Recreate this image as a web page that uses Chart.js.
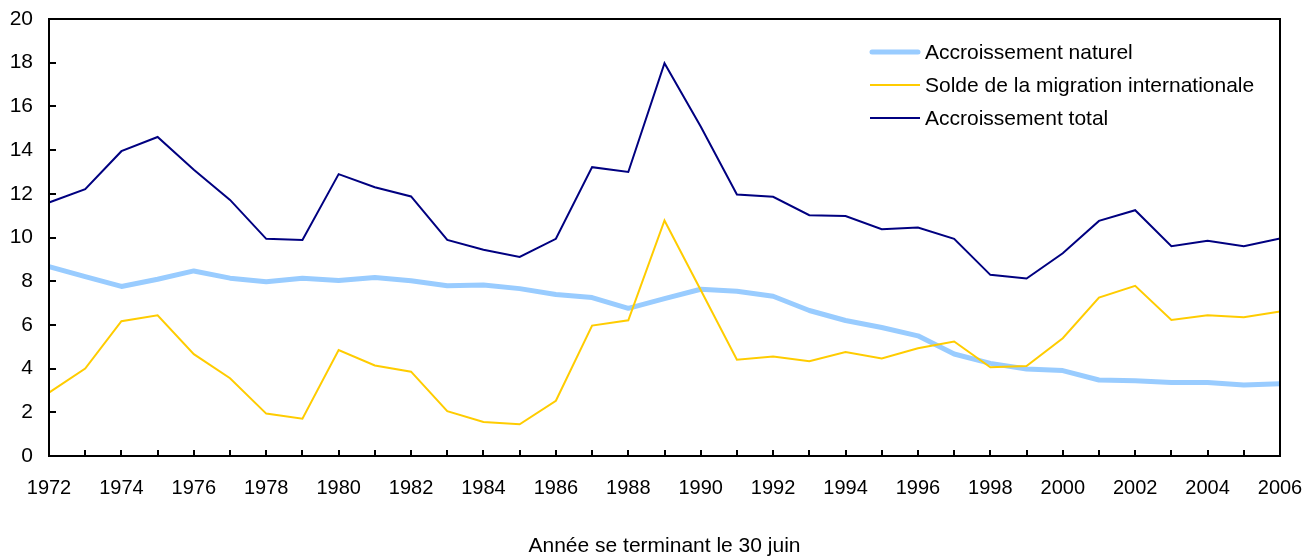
<!DOCTYPE html>
<html>
<head>
<meta charset="utf-8">
<script src="https://cdn.jsdelivr.net/npm/chart.js@4/dist/chart.umd.min.js"></script>
<style>
  html, body { margin: 0; padding: 0; background: #ffffff; }
  #wrap { width: 1315px; height: 559px; }
</style>
</head>
<body>
<div id="wrap"><canvas id="c" width="1315" height="559"></canvas></div>
<script>
const years = ['1972','1973','1974','1975','1976','1977','1978','1979','1980','1981','1982','1983','1984','1985','1986','1987','1988','1989','1990','1991','1992','1993','1994','1995','1996','1997','1998','1999','2000','2001','2002','2003','2004','2005','2006'];
const naturalIncrease = [8.67,8.21,7.76,8.09,8.47,8.14,7.98,8.14,8.03,8.17,8.02,7.79,7.83,7.66,7.39,7.25,6.76,7.2,7.63,7.54,7.31,6.66,6.2,5.88,5.5,4.67,4.24,3.98,3.91,3.48,3.44,3.36,3.36,3.25,3.31];
const netMigration = [2.9,4.0,6.17,6.44,4.66,3.56,1.94,1.71,4.85,4.14,3.86,2.05,1.56,1.45,2.53,5.97,6.21,10.78,7.6,4.41,4.55,4.34,4.76,4.46,4.93,5.24,4.06,4.12,5.39,7.25,7.79,6.23,6.44,6.35,6.61];
const totalIncrease = [11.6,12.21,13.95,14.6,13.1,11.72,9.94,9.89,12.9,12.3,11.88,9.89,9.44,9.11,9.94,13.22,13.0,17.98,15.08,11.97,11.86,11.02,10.98,10.38,10.46,9.94,8.29,8.12,9.28,10.76,11.25,9.6,9.85,9.6,9.95];
const seriesNames = ['Accroissement naturel','Solde de la migration internationale','Accroissement total'];
const yTicks = [0,2,4,6,8,10,12,14,16,18,20];
const xTitle = 'Année se terminant le 30 juin';

const FONT = '"Liberation Sans", Arial, Helvetica, sans-serif';

const framePlugin = {
  id: 'frame',
  afterDatasetsDraw(chart) {
    const ctx = chart.ctx;
    const a = chart.chartArea;
    const xs = chart.scales.x, ys = chart.scales.y;
    ctx.save();
    ctx.strokeStyle = '#000000';
    ctx.lineWidth = 2;
    ctx.beginPath();
    for (let i = 0; i < years.length; i++) {
      const x = Math.round(xs.getPixelForValue(i));
      ctx.moveTo(x, a.bottom);
      ctx.lineTo(x, a.bottom - 6);
    }
    yTicks.forEach(v => {
      const y = Math.round(ys.getPixelForValue(v));
      ctx.moveTo(a.left, y);
      ctx.lineTo(a.left + 7, y);
    });
    ctx.stroke();
    ctx.strokeRect(a.left, a.top, a.right - a.left, a.bottom - a.top);
    ctx.restore();
  }
};

const legendPlugin = {
  id: 'insideLegend',
  afterDraw(chart) {
    const ctx = chart.ctx;
    const a = chart.chartArea;
    const x0 = a.right - 410;
    const y0 = a.top + 33;
    ctx.save();
    chart.data.datasets.forEach((ds, i) => {
      const y = y0 + i * 33;
      ctx.strokeStyle = ds.borderColor;
      ctx.lineWidth = ds.borderWidth;
      ctx.lineCap = i === 0 ? 'round' : 'butt';
      ctx.beginPath();
      ctx.moveTo(x0 + (i === 0 ? 2 : 0), y);
      ctx.lineTo(x0 + 50 - (i === 0 ? 2 : 0), y);
      ctx.stroke();
      ctx.fillStyle = '#000000';
      ctx.font = '21px ' + FONT;
      ctx.textBaseline = 'middle';
      ctx.textAlign = 'left';
      ctx.fillText(ds.label, x0 + 55, y + 1);
    });
    ctx.restore();
  }
};

new Chart(document.getElementById('c'), {
  type: 'line',
  data: {
    labels: years,
    datasets: [
      { label: seriesNames[0], data: naturalIncrease, borderColor: '#99CCFF', backgroundColor: '#99CCFF', borderWidth: 5, pointRadius: 0, tension: 0, order: 3, borderJoinStyle: 'round' },
      { label: seriesNames[1], data: netMigration, borderColor: '#FFCC00', backgroundColor: '#FFCC00', borderWidth: 2, pointRadius: 0, tension: 0, order: 2 },
      { label: seriesNames[2], data: totalIncrease, borderColor: '#000080', backgroundColor: '#000080', borderWidth: 2, pointRadius: 0, tension: 0, order: 1 }
    ]
  },
  options: {
    responsive: false,
    animation: false,
    layout: { padding: { top: 19, right: 35, bottom: 0, left: 0 } },
    plugins: { legend: { display: false }, tooltip: { enabled: false }, title: { display: false } },
    scales: {
      x: {
        type: 'category',
        offset: false,
        grid: { display: false, drawTicks: true, tickLength: 20 },
        border: { display: false },
        ticks: {
          autoSkip: false,
          maxRotation: 0,
          minRotation: 0,
          padding: 0,
          color: '#000000',
          font: { family: FONT, size: 20 },
          callback: function(value) {
            const lab = this.getLabelForValue(value);
            return (parseInt(lab, 10) % 2 === 0) ? lab : '';
          }
        },
        title: { display: true, text: xTitle, color: '#000000', font: { family: FONT, size: 21 }, padding: { top: 0, bottom: 0 } },
        afterFit(scale) { scale.height = 103; }
      },
      y: {
        min: 0,
        max: 20,
        grid: { display: false, drawTicks: true, tickLength: 16 },
        border: { display: false },
        afterBuildTicks(scale) { scale.ticks = yTicks.map(v => ({ value: v })); },
        ticks: { padding: 0, color: '#000000', font: { family: FONT, size: 21 } },
        afterFit(scale) { scale.width = 49; }
      }
    }
  },
  plugins: [framePlugin, legendPlugin]
});
</script>
</body>
</html>
